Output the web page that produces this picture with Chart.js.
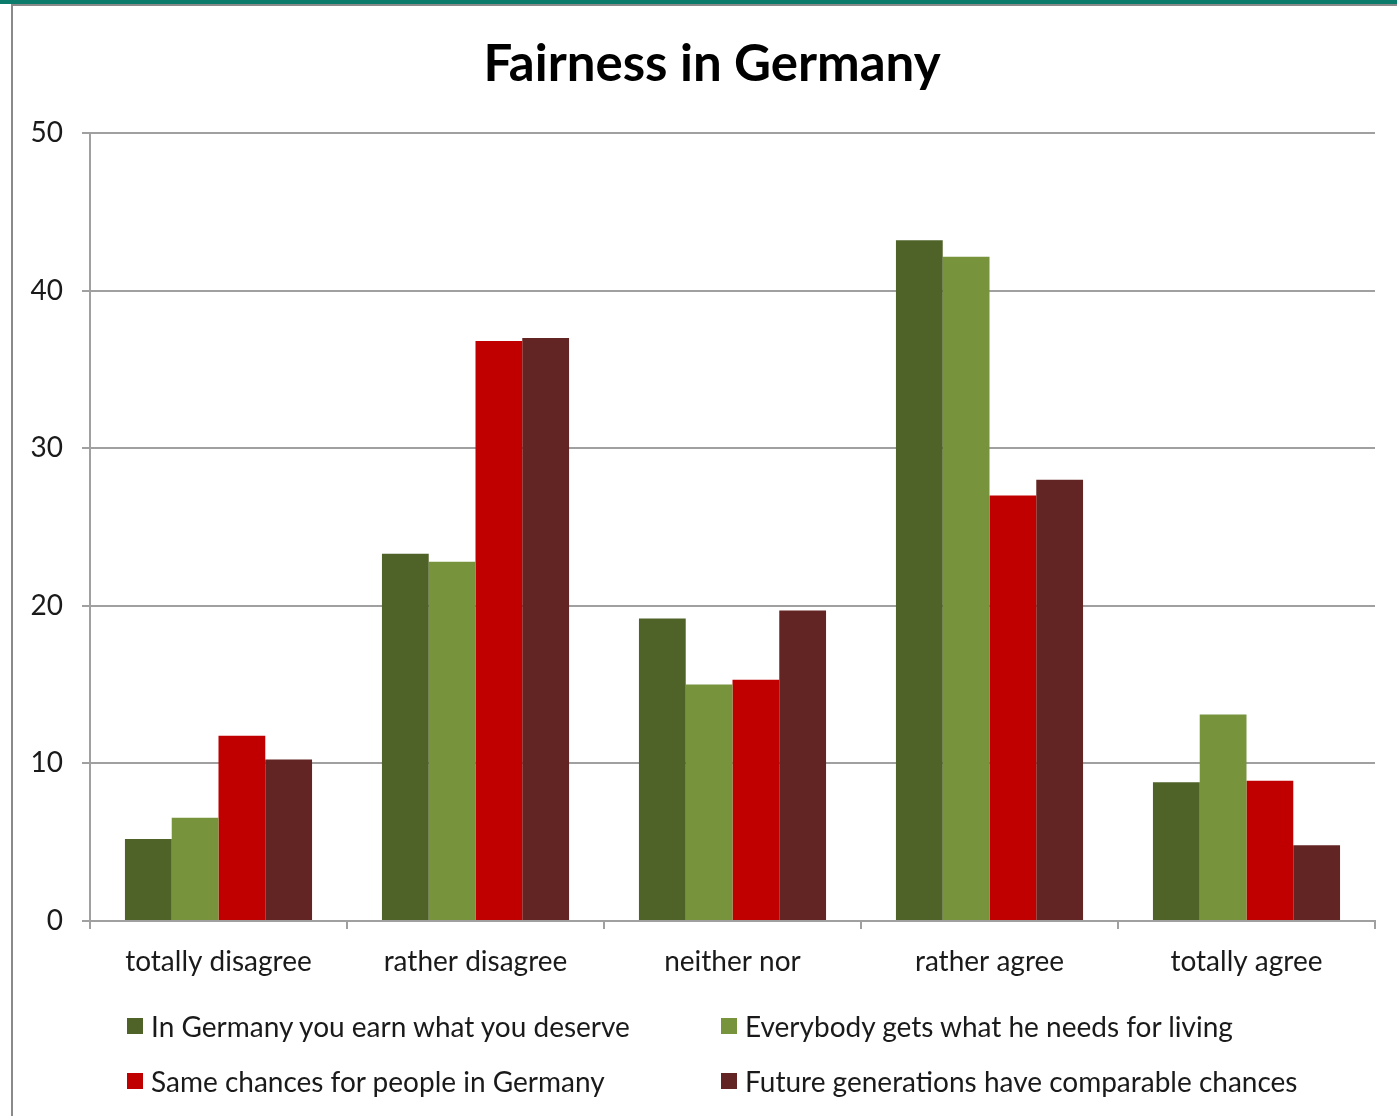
<!DOCTYPE html>
<html>
<head>
<meta charset="utf-8">
<script src="https://cdn.jsdelivr.net/npm/chart.js@4/dist/chart.umd.min.js"></script>
<style>
  html, body { margin: 0; padding: 0; background: #fff; }
  body { width: 1397px; height: 1116px; position: relative; overflow: hidden; font-family: Lato, "Open Sans", sans-serif; }
  #topbar { position: absolute; left: 0; top: 0; width: 1397px; height: 4px; background: #0b7b6b; }
  #topline { position: absolute; left: 11px; top: 4px; width: 1386px; height: 2px; background: #8a8a8a; }
  #leftline { position: absolute; left: 11px; top: 4px; width: 2px; height: 1112px; background: #8a8a8a; }
  #wrap { position: absolute; left: 13px; top: 6px; width: 1384px; height: 1110px; }
  #title { position: absolute; left: 312px; width: 800px; top: 36px; text-align: center; font-size: 51px; line-height: 51px; font-weight: bold; color: #000; white-space: nowrap; }
  #legend { position: absolute; left: 0; top: 0; width: 1397px; height: 1116px; pointer-events: none; }
  .li { position: absolute; display: flex; align-items: center; font-size: 28px; color: #1a1a1a; white-space: nowrap; }
  .sw { width: 16px; height: 16px; margin-right: 8px; flex: none; }
</style>
</head>
<body>
<div id="topbar"></div>
<div id="topline"></div>
<div id="leftline"></div>
<div id="wrap"><canvas id="c" width="1384" height="1110"></canvas></div>
<div id="title"></div>
<div id="legend"></div>
<script>
const chartTitle = "Fairness in Germany";
const categories = ["totally disagree", "rather disagree", "neither nor", "rather agree", "totally agree"];
const seriesNames = [
  "In Germany you earn what you deserve",
  "Everybody gets what he needs for living",
  "Same chances for people in Germany",
  "Future generations have comparable chances"
];
const earnDeserve = [5.2, 23.3, 19.2, 43.2, 8.8];
const needsLiving = [6.55, 22.8, 15.0, 42.15, 13.1];
const sameChances = [11.75, 36.8, 15.3, 27.0, 8.9];
const futureGen = [10.25, 37.0, 19.7, 28.0, 4.8];
const yTicks = [0, 10, 20, 30, 40, 50];
const colors = ["#4f6228", "#77933c", "#c00000", "#632523"];
const seriesValues = [earnDeserve, needsLiving, sameChances, futureGen];

document.getElementById('title').textContent = chartTitle;

const datasets = seriesNames.map((name, i) => ({
  label: name,
  data: seriesValues[i],
  backgroundColor: colors[i],
  borderWidth: 0,
  categoryPercentage: 0.728,
  barPercentage: 1.0
}));

const FONT = "Lato, 'Open Sans', sans-serif";

const chart = new Chart(document.getElementById('c'), {
  type: 'bar',
  data: { labels: categories, datasets },
  options: {
    responsive: false,
    animation: false,
    devicePixelRatio: 1,
    layout: { padding: { left: 0, right: 22, top: 127, bottom: 135 } },
    plugins: {
      legend: { display: false },
      tooltip: { enabled: false },
      title: { display: false }
    },
    scales: {
      x: {
        grid: { display: true, drawOnChartArea: false, drawTicks: true, tickLength: 8, color: "#a0a0a0", lineWidth: 2, offset: true },
        border: { display: true, color: "#a0a0a0", width: 2 },
        ticks: { color: "#1a1a1a", font: { family: FONT, size: 28 }, padding: 16, maxRotation: 0, autoSkip: false },
        afterFit(scale) { scale.height = 60; }
      },
      y: {
        min: 0, max: 50,
        afterBuildTicks(scale) { scale.ticks = yTicks.map(v => ({ value: v })); },
        grid: { color: "#a0a0a0", lineWidth: 2, tickLength: 8, drawTicks: true },
        border: { display: true, color: "#a0a0a0", width: 2 },
        ticks: { color: "#1a1a1a", font: { family: FONT, size: 28 }, padding: 19 },
        afterFit(scale) { scale.width = 77; }
      }
    }
  }
});

// HTML legend built from the chart's datasets
const legendEl = document.getElementById('legend');
const pos = [[127, 1026], [721, 1026], [127, 1081], [721, 1081]];
chart.data.datasets.forEach((ds, i) => {
  const item = document.createElement('div');
  item.className = 'li';
  item.style.left = pos[i][0] + 'px';
  item.style.top = (pos[i][1] - 17) + 'px';
  item.style.height = '34px';
  const sw = document.createElement('span');
  sw.className = 'sw';
  sw.style.background = ds.backgroundColor;
  const tx = document.createElement('span');
  tx.textContent = ds.label;
  item.appendChild(sw);
  item.appendChild(tx);
  legendEl.appendChild(item);
});
</script>
</body>
</html>
